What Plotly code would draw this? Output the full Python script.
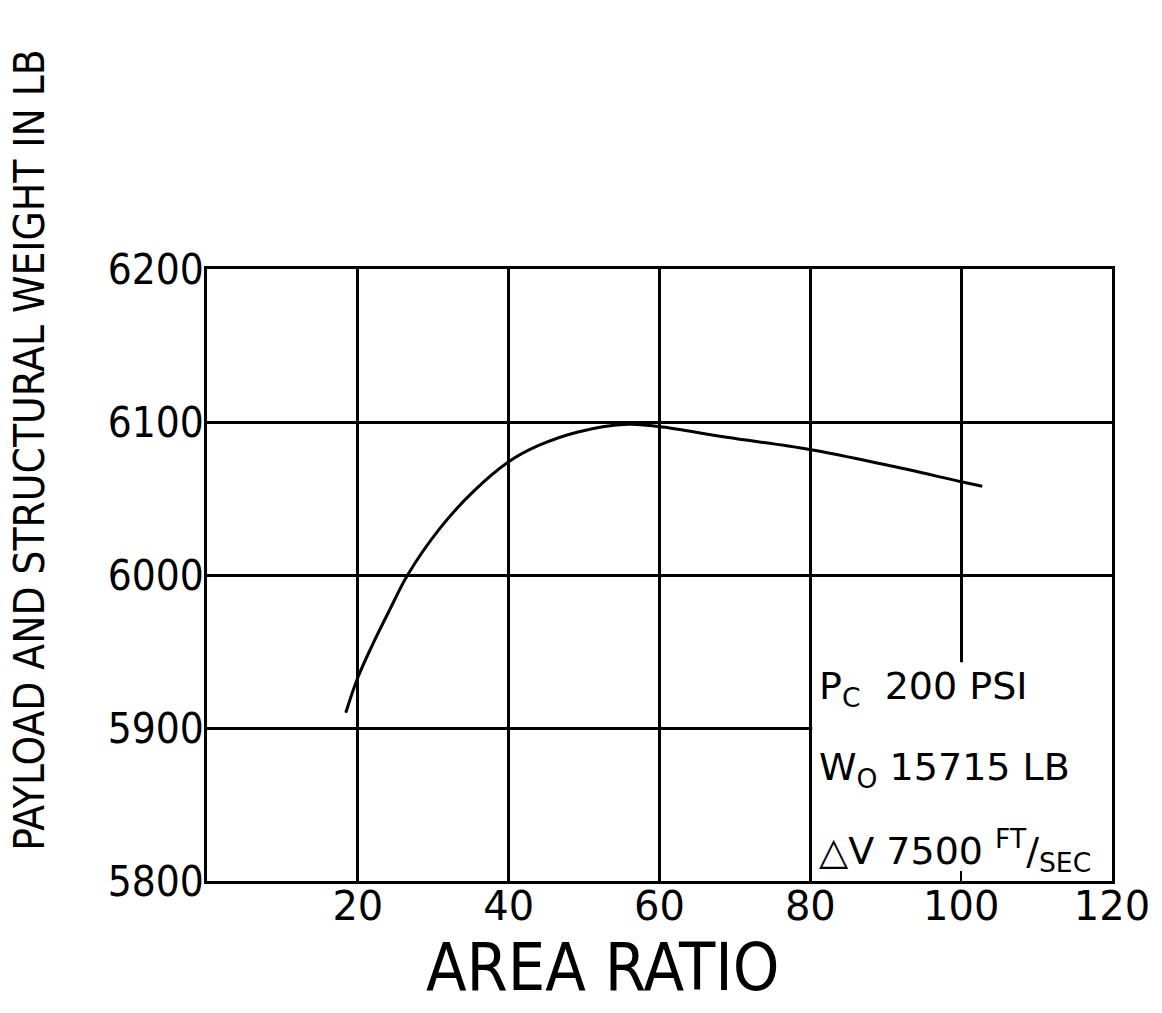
import plotly.graph_objects as go

area_ratio = [18.4, 20.0, 22.0, 24.2, 26.6, 30.8, 35.2, 40.0, 43.9, 49.2,
              55.8, 59.9, 68.9, 79.9, 90.0, 100.0, 102.8]
weight = [5910, 5933, 5955, 5977, 6000, 6030, 6054, 6074, 6084.5, 6093.5,
          6098.5, 6097, 6090, 6082, 6072, 6061, 6058]

x_ticks = [20, 40, 60, 80, 100, 120]
y_ticks = [5800, 5900, 6000, 6100, 6200]

NARROW = "DejaVu Sans Condensed, Liberation Sans Narrow, sans-serif"
WIDE = "DejaVu Sans, sans-serif"

fig = go.Figure()
fig.add_trace(go.Scatter(x=area_ratio, y=weight, mode="lines",
                         line=dict(color="black", width=3, shape="spline", smoothing=1.0),
                         showlegend=False, hoverinfo="skip"))

# white panel for the parameter box (covers the gridlines)
fig.add_shape(type="rect", xref="x", yref="y", x0=80.25, x1=120, y0=5800, y1=5943,
              fillcolor="white", line=dict(width=0), layer="between")

notes = [
    ("P<sub>C</sub>  200 PSI", 5926),
    ("W<sub>O</sub> 15715 LB", 5873),
    ("△V 7500 <sup>FT</sup>/<sub>SEC</sub>", 5820),
]
for txt, yv in notes:
    fig.add_annotation(x=80.9, y=yv, xref="x", yref="y", text=txt, showarrow=False,
                       xanchor="left", yanchor="middle",
                       font=dict(family=WIDE, size=38, color="black"))

fig.add_annotation(x=-0.197, y=0.704, xref="paper", yref="paper",
                   text="PAYLOAD AND STRUCTURAL WEIGHT IN LB", textangle=-90,
                   showarrow=False, xanchor="center", yanchor="middle",
                   font=dict(family=NARROW, size=42, color="black"))

fig.add_annotation(x=0.437, y=-0.142, xref="paper", yref="paper",
                   text="AREA RATIO", showarrow=False,
                   xanchor="center", yanchor="middle",
                   font=dict(family=NARROW, size=66, color="black"))

fig.update_xaxes(range=[0, 120], tickvals=x_ticks, ticktext=[str(v) for v in x_ticks],
                 showgrid=True, gridcolor="black", gridwidth=2.5,
                 showline=True, linecolor="black", linewidth=2.5, mirror=True,
                 ticks="inside", ticklen=10, tickcolor="black", tickwidth=2,
                 zeroline=False, ticklabelstandoff=-12,
                 tickfont=dict(family=WIDE, size=40, color="black"))
fig.update_yaxes(range=[5800, 6200], tickvals=y_ticks, ticktext=[str(v) for v in y_ticks],
                 showgrid=True, gridcolor="black", gridwidth=2.5,
                 showline=True, linecolor="black", linewidth=2.5, mirror=True,
                 ticks="", zeroline=False, ticklabelstandoff=-8,
                 tickfont=dict(family=NARROW, size=42, color="black"))

fig.update_layout(width=1162, height=1013,
                  margin=dict(l=207, r=45, t=269, b=132),
                  plot_bgcolor="white", paper_bgcolor="white")

fig.write_html("out.html")
